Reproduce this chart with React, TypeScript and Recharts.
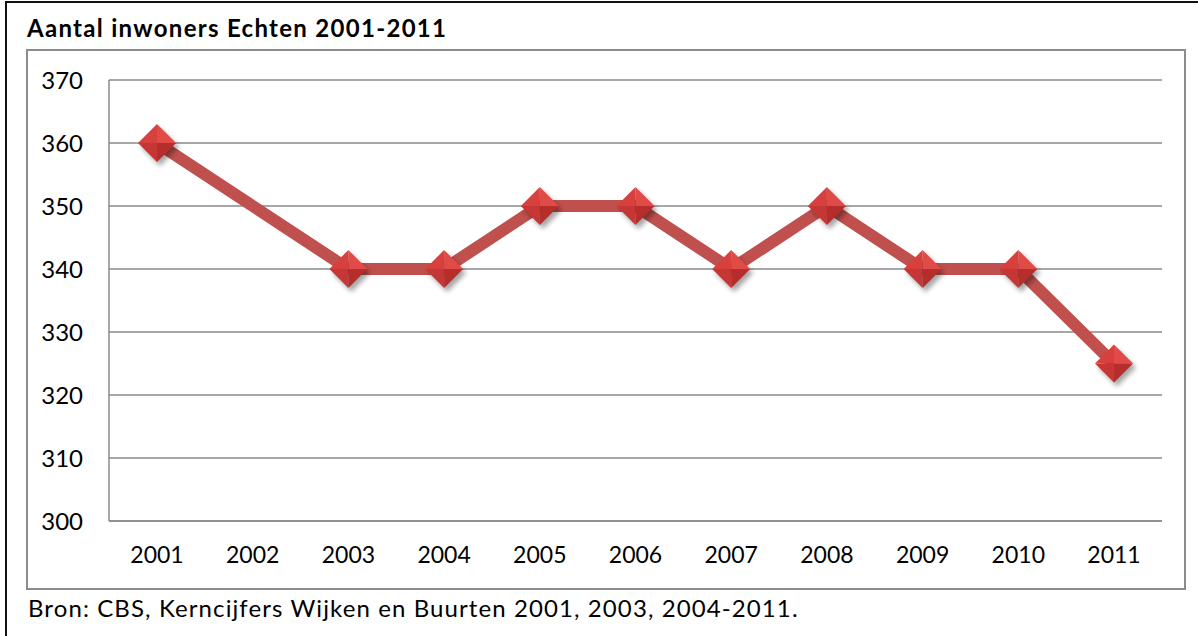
import React from 'react';
import { LineChart, Line, XAxis, YAxis, CartesianGrid } from 'recharts';

// -- data --
const years = ['2001', '2002', '2003', '2004', '2005', '2006', '2007', '2008', '2009', '2010', '2011'];
const inhabitants: (number | null)[] = [360, null, 340, 340, 350, 350, 340, 350, 340, 340, 325];
const yTicks = [300, 310, 320, 330, 340, 350, 360, 370];

const data = years.map((year, i) => ({ year, value: inhabitants[i] }));

const FONT = 'Lato, "Open Sans", sans-serif';
const LINE_COLOR = '#c0504d';
const GRID_COLOR = '#8a8a8a';

// diamond marker with four shaded faces and a soft shadow
const DiamondDot = (props: any) => {
  const { cx, cy, value } = props;
  if (value == null || cx == null || cy == null) return null;
  const r = 19;
  const t = `${cx},${cy - r}`;
  const b = `${cx},${cy + r}`;
  const l = `${cx - r},${cy}`;
  const rr = `${cx + r},${cy}`;
  const c = `${cx},${cy}`;
  return (
    <g>
      <polygon
        points={`${cx + 3},${cy - r + 4} ${cx + r + 3},${cy + 4} ${cx + 3},${cy + r + 4} ${cx - r + 3},${cy + 4}`}
        fill="#000"
        opacity={0.35}
        filter="url(#dotShadow)"
      />
      <polygon points={`${t} ${rr} ${c}`} fill="#e04a47" />
      <polygon points={`${t} ${l} ${c}`} fill="#d8403e" />
      <polygon points={`${l} ${b} ${c}`} fill="#c63634" />
      <polygon points={`${rr} ${b} ${c}`} fill="#b52e2c" />
    </g>
  );
};

export default function App() {
  return (
    <div
      style={{
        position: 'fixed',
        left: 0,
        top: 0,
        width: 1198,
        height: 636,
        background: '#fff',
        overflow: 'hidden',
        fontFamily: FONT,
      }}
    >
      {/* outer frame */}
      <div
        style={{
          position: 'absolute',
          left: 5,
          top: 1,
          width: 1250,
          height: 700,
          borderLeft: '2px solid #111',
          borderTop: '2px solid #111',
        }}
      />
      {/* inner chart box */}
      <div
        style={{
          position: 'absolute',
          left: 26,
          top: 49,
          width: 1156,
          height: 537,
          border: '2px solid #8c8c8c',
        }}
      />
      <div
        style={{
          position: 'absolute',
          left: 27,
          top: 13,
          fontSize: 24,
          letterSpacing: 1.3,
          fontWeight: 'bold',
          color: '#000',
          whiteSpace: 'nowrap',
        }}
      >
        Aantal inwoners Echten 2001-2011
      </div>
      <div
        style={{
          position: 'absolute',
          left: 28,
          top: 593,
          fontSize: 24,
          letterSpacing: 1.1,
          color: '#000',
          whiteSpace: 'nowrap',
        }}
      >
        Bron: CBS, Kerncijfers Wijken en Buurten 2001, 2003, 2004-2011.
      </div>
      <div style={{ position: 'absolute', left: 0, top: 0 }}>
        <LineChart
          width={1198}
          height={636}
          data={data}
          margin={{ top: 80, right: 36, bottom: 75, left: 49 }}
        >
          <defs>
            <filter id="dotShadow" x="-50%" y="-50%" width="200%" height="200%">
              <feGaussianBlur stdDeviation="2.5" />
            </filter>
          </defs>
          <CartesianGrid vertical={false} stroke={GRID_COLOR} strokeWidth={1.5} />
          <XAxis
            dataKey="year"
            height={40}
            padding={{ left: 48, right: 48 }}
            axisLine={{ stroke: GRID_COLOR, strokeWidth: 1.5 }}
            tickLine={false}
            tickSize={0}
            tickMargin={26}
            tick={{ fill: '#000', fontSize: 23, fontFamily: FONT }}
            interval={0}
          />
          <YAxis
            width={60}
            domain={[300, 370]}
            ticks={yTicks}
            interval={0}
            axisLine={{ stroke: GRID_COLOR, strokeWidth: 1.5 }}
            tickLine={false}
            tickSize={0}
            tickMargin={26}
            tick={{ fill: '#000', fontSize: 24, fontFamily: FONT }}
          />
          <Line
            type="linear"
            dataKey="value"
            stroke={LINE_COLOR}
            strokeWidth={12}
            strokeLinejoin="round"
            connectNulls
            dot={<DiamondDot />}
            activeDot={false}
            isAnimationActive={false}
          />
        </LineChart>
      </div>
    </div>
  );
}
